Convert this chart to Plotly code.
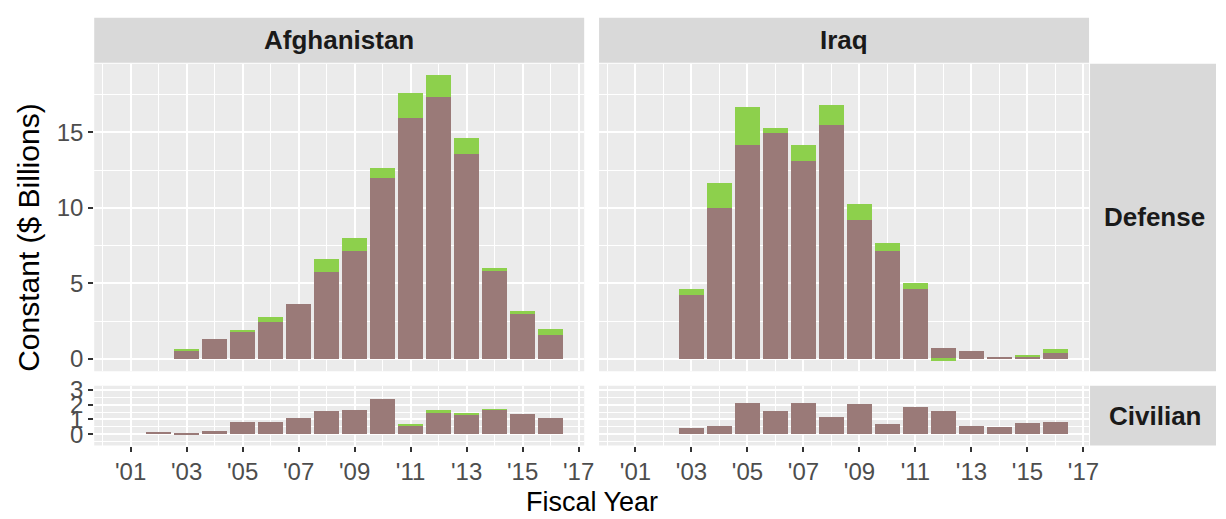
import plotly.graph_objects as go

# ---- data ($ billions, constant) ----
afg_def_years = list(range(2003, 2017))
afg_def_base = [0.54, 1.30, 1.84, 2.42, 3.66, 5.78, 7.14, 11.97, 15.97, 17.38, 13.55, 5.84, 3.01, 1.58]
afg_def_extra = [0.09, 0.0, 0.04, 0.39, 0.0, 0.84, 0.85, 0.71, 1.65, 1.43, 1.08, 0.20, 0.15, 0.39]

irq_def_years = list(range(2003, 2017))
irq_def_base = [4.22, 9.98, 14.18, 14.96, 13.12, 15.52, 9.20, 7.12, 4.63, 0.74, 0.56, 0.08, 0.17, 0.41]
irq_def_extra = [0.43, 1.67, 2.51, 0.32, 1.08, 1.30, 1.06, 0.54, 0.41, -0.13, 0.0, 0.0, 0.11, 0.26]

afg_civ_years = list(range(2002, 2017))
afg_civ_base = [0.15, 0.11, 0.23, 0.81, 0.81, 1.13, 1.57, 1.64, 2.40, 0.57, 1.47, 1.36, 1.66, 1.38, 1.13]
afg_civ_extra = [0, 0, 0, 0, 0, 0, 0, 0, 0, 0.09, 0.17, 0.04, 0.04, 0, 0]

irq_civ_years = list(range(2003, 2017))
irq_civ_base = [0.45, 0.57, 2.13, 1.57, 2.13, 1.15, 2.06, 0.70, 1.85, 1.62, 0.57, 0.51, 0.74, 0.83]
irq_civ_extra = [0] * 14

x_ticks = list(range(2001, 2018, 2))
x_tick_labels = ["'01", "'03", "'05", "'07", "'09", "'11", "'13", "'15", "'17"]
x_minor = list(range(2000, 2018, 2))

facets = ["Afghanistan", "Iraq"]
rows = ["Defense", "Civilian"]

# ---- style ----
W, H = 1226, 519
BROWN = "#9A7A78"
GREEN = "#8DD04C"
PANEL = "#EBEBEB"
STRIP = "#D9D9D9"
TEXT = "#4D4D4D"
FONT = "Liberation Sans, Arial, sans-serif"
TICK_SIZE = 24
STRIP_SIZE = 26
TITLE_SIZE = 27


def fx(px):
    return px / W


def fy(py):
    return 1 - py / H


panel_x = [(95, 589), (604, 1098)]
panel_y = {"Defense": (56, 370), "Civilian": (385, 446)}
y_ranges = {"Defense": [-0.82, 19.54], "Civilian": [-0.78, 3.29]}
y_ticks = {"Defense": [0, 5, 10, 15], "Civilian": [0, 1, 2, 3]}
y_minor = {"Defense": [2.5, 7.5, 12.5, 17.5], "Civilian": [-0.5, 0.5, 1.5, 2.5]}

series = {
    ("Afghanistan", "Defense"): (afg_def_years, afg_def_base, afg_def_extra),
    ("Iraq", "Defense"): (irq_def_years, irq_def_base, irq_def_extra),
    ("Afghanistan", "Civilian"): (afg_civ_years, afg_civ_base, afg_civ_extra),
    ("Iraq", "Civilian"): (irq_civ_years, irq_civ_base, irq_civ_extra),
}

fig = go.Figure()
layout = {}
idx = 0
for r, row in enumerate(rows):
    for c, facet in enumerate(facets):
        idx += 1
        xa = "x" if idx == 1 else f"x{idx}"
        ya = "y" if idx == 1 else f"y{idx}"
        years, base, extra = series[(facet, row)]
        fig.add_trace(go.Bar(x=years, y=base, width=0.9, marker=dict(color=BROWN, line=dict(width=0)),
                             xaxis=xa, yaxis=ya, showlegend=False, name="base"))
        fig.add_trace(go.Bar(x=years, y=extra, width=0.9, marker=dict(color=GREEN, line=dict(width=0)),
                             xaxis=xa, yaxis=ya, showlegend=False, name="supplemental"))
        bottom = row == "Civilian"
        x0, x1 = panel_x[c]
        y0, y1 = panel_y[row]
        layout["xaxis" if idx == 1 else f"xaxis{idx}"] = dict(
            domain=[fx(x0), fx(x1)], anchor=ya, range=[1999.7, 2017.2],
            tickmode="array", tickvals=x_ticks, ticktext=x_tick_labels,
            showticklabels=bottom, ticks="outside" if bottom else "", ticklen=5,
            tickwidth=1.5, tickcolor="#333333",
            tickfont=dict(family=FONT, size=TICK_SIZE, color=TEXT),
            showgrid=True, gridcolor="white", gridwidth=1.6,
            minor=dict(tickvals=x_minor, showgrid=True, gridcolor="white", gridwidth=0.8, ticks=""),
            zeroline=False, showline=False, fixedrange=True,
        )
        left = c == 0
        layout["yaxis" if idx == 1 else f"yaxis{idx}"] = dict(
            domain=[fy(y1), fy(y0)], anchor=xa, range=y_ranges[row],
            tickmode="array", tickvals=y_ticks[row],
            showticklabels=left, ticks="outside" if left else "", ticklen=5,
            tickwidth=1.5, tickcolor="#333333",
            tickfont=dict(family=FONT, size=TICK_SIZE, color=TEXT),
            showgrid=True, gridcolor="white", gridwidth=1.6,
            minor=dict(tickvals=y_minor[row], showgrid=True, gridcolor="white", gridwidth=0.8, ticks=""),
            zeroline=False, showline=False, fixedrange=True,
        )

shapes = []
annotations = []
# panel backgrounds
for c in range(2):
    for row in rows:
        x0, x1 = panel_x[c]
        y0, y1 = panel_y[row]
        shapes.append(dict(type="rect", xref="paper", yref="paper", x0=fx(x0), x1=fx(x1),
                           y0=fy(y1), y1=fy(y0), fillcolor=PANEL, line=dict(width=0), layer="below"))
# column strips
for c, facet in enumerate(facets):
    x0, x1 = panel_x[c]
    shapes.append(dict(type="rect", xref="paper", yref="paper", x0=fx(x0), x1=fx(x1),
                       y0=fy(55), y1=fy(9), fillcolor=STRIP, line=dict(width=0)))
    annotations.append(dict(text=f"<b>{facet}</b>", xref="paper", yref="paper",
                            x=fx((x0 + x1) / 2), y=fy(32), showarrow=False,
                            font=dict(family=FONT, size=STRIP_SIZE, color="#1A1A1A"),
                            xanchor="center", yanchor="middle"))
# row strips
for row in rows:
    y0, y1 = panel_y[row]
    shapes.append(dict(type="rect", xref="paper", yref="paper", x0=fx(1099), x1=fx(1226),
                       y0=fy(y1), y1=fy(y0), fillcolor=STRIP, line=dict(width=0)))
    annotations.append(dict(text=f"<b>{row}</b>", xref="paper", yref="paper",
                            x=fx(1164), y=fy((y0 + y1) / 2), showarrow=False,
                            font=dict(family=FONT, size=STRIP_SIZE, color="#1A1A1A"),
                            xanchor="center", yanchor="middle"))

# axis titles
annotations.append(dict(text="Fiscal Year", xref="paper", yref="paper", x=fx(597), y=fy(504),
                        showarrow=False, font=dict(family=FONT, size=TITLE_SIZE, color="black"),
                        xanchor="center", yanchor="middle"))
annotations.append(dict(text="Constant ($ Billions)", xref="paper", yref="paper", x=fx(28), y=fy(234),
                        showarrow=False, textangle=-90, font=dict(family=FONT, size=30, color="black"),
                        xanchor="center", yanchor="middle"))

fig.update_layout(
    width=W, height=H, margin=dict(l=0, r=0, t=0, b=0),
    paper_bgcolor="white", plot_bgcolor="rgba(0,0,0,0)",
    barmode="relative", bargap=0, shapes=shapes, annotations=annotations,
    font=dict(family=FONT), **layout,
)

fig.write_html("out.html")
